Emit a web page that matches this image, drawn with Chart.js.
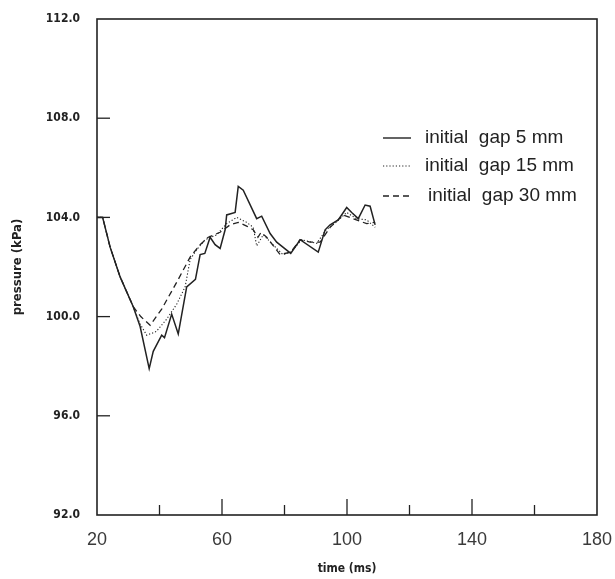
<!DOCTYPE html>
<html><head><meta charset="utf-8">
<script src="https://cdn.jsdelivr.net/npm/chart.js@4/dist/chart.umd.min.js"></script>
<style>html,body{margin:0;padding:0;background:#fff}#wrap{width:615px;height:579px;position:relative}</style>
</head><body><div id="wrap"><canvas id="c" width="615" height="579"></canvas></div>
<script>
// time (ms) and pressure (kPa) values
const gap5X  = [20,21.8,24.2,27.4,31.6,33.8,36.7,38,40.7,41.6,43.9,46,48.7,51.5,53,54.5,56.2,57.8,59.4,61,61.5,64.2,65.2,66.8,71.1,72.7,75.4,77.5,82,85,90.8,93,94.6,97.2,99.9,101.5,103.6,105.8,107.4,109];
const gap5Y  = [104,104,102.8,101.6,100.4,99.6,97.9,98.6,99.25,99.15,100.1,99.3,101.2,101.5,102.5,102.55,103.2,102.9,102.75,103.5,104.1,104.2,105.25,105.1,103.95,104.05,103.35,103.0,102.55,103.1,102.6,103.5,103.7,103.9,104.4,104.2,103.95,104.5,104.45,103.7];
const gap15X = [20,21.8,24.2,27.4,31.6,33.8,35.9,39,42.3,45.5,48.2,49.8,51.9,54.6,58.3,61.5,64.7,67.9,70,71.1,73.2,77.5,79.5,82,85.5,90.3,93.3,96.5,99.9,103,106.3,109];
const gap15Y = [104,104,102.8,101.6,100.4,99.7,99.25,99.4,99.9,100.5,101.2,102.3,102.7,103.1,103.3,103.75,104.0,103.8,103.6,102.85,103.3,102.75,102.5,102.6,103.1,102.95,103.5,103.8,104.2,103.95,103.9,103.6];
const gap30X = [20,21.8,24.2,27.4,31.6,34,37,40.7,46,49.8,53,55.6,59.4,62.6,65.2,67.9,70,71.5,72.5,74.3,78.6,82,85,88.2,91.4,94.6,98.8,103,106.3,109];
const gap30Y = [104,104,102.8,101.6,100.4,100,99.65,100.3,101.5,102.4,102.9,103.2,103.4,103.7,103.8,103.65,103.5,103.2,103.4,103.2,102.5,102.6,103.1,103.0,103.0,103.6,104.1,103.9,103.75,103.8];
const seriesNames = ['initial  gap 5 mm','initial  gap 15 mm','initial  gap 30 mm'];
const xTicks = [20,40,60,80,100,120,140,160,180];
const xLabelTicks = [20,60,100,140,180];
const yTicks = [92,96,100,104,108,112];

const pts = (xs, ys) => xs.map((x, i) => ({x, y: ys[i]}));
const ink = '#222';
const dashes = [[], [1.2, 2], [6, 4]];

const frameAndTicks = {
  id: 'frameAndTicks',
  afterDatasetsDraw(chart) {
    const {ctx, chartArea: a, scales: {x, y}} = chart;
    ctx.save();
    ctx.strokeStyle = ink; ctx.lineWidth = 1.6;
    ctx.strokeRect(a.left, a.top, a.right - a.left, a.bottom - a.top);
    ctx.lineWidth = 1.3;
    xTicks.forEach(v => {
      if (v === 20 || v === 180) return;
      const px = x.getPixelForValue(v);
      const len = xLabelTicks.includes(v) ? 16 : 10;
      ctx.beginPath(); ctx.moveTo(px, a.bottom); ctx.lineTo(px, a.bottom - len); ctx.stroke();
    });
    yTicks.forEach(v => {
      if (v === 92 || v === 112) return;
      const py = y.getPixelForValue(v);
      ctx.beginPath(); ctx.moveTo(a.left, py); ctx.lineTo(a.left + 13, py); ctx.stroke();
    });
    // legend
    const rows = [138, 166, 196];
    ctx.font = '19px "Liberation Sans", Arial, sans-serif';
    ctx.fillStyle = ink; ctx.textBaseline = 'middle';
    chart.data.datasets.forEach((ds, i) => {
      ctx.setLineDash(dashes[i]);
      ctx.lineWidth = i === 1 ? 1 : 1.4;
      ctx.beginPath(); ctx.moveTo(383, rows[i]); ctx.lineTo(411, rows[i]); ctx.stroke();
      ctx.setLineDash([]);
      ctx.fillText(ds.label, i === 2 ? 428 : 425, rows[i]);
    });
    ctx.restore();
  }
};

new Chart(document.getElementById('c'), {
  type: 'line',
  data: {
    datasets: [
      {label: seriesNames[0], data: pts(gap5X, gap5Y), borderDash: dashes[0], borderWidth: 1.5},
      {label: seriesNames[1], data: pts(gap15X, gap15Y), borderDash: dashes[1], borderWidth: 1.1},
      {label: seriesNames[2], data: pts(gap30X, gap30Y), borderDash: dashes[2], borderWidth: 1.3}
    ].map(d => Object.assign(d, {borderColor: ink, pointRadius: 0, tension: 0, fill: false}))
  },
  options: {
    responsive: false, animation: false,
    layout: {padding: {left: 10, right: 18, top: 19, bottom: 0}},
    plugins: {legend: {display: false}, tooltip: {enabled: false}},
    scales: {
      x: {
        type: 'linear', min: 20, max: 180,
        afterBuildTicks: s => { s.ticks = xTicks.map(v => ({value: v})); },
        grid: {display: false, drawTicks: false},
        border: {display: false},
        ticks: {
          autoSkip: false, maxRotation: 0, padding: 14, color: '#3a3a3a',
          font: {family: '"Liberation Sans", Arial, sans-serif', size: 18},
          callback: v => xLabelTicks.includes(v) ? String(v) : ''
        },
        title: {display: true, text: 'time (ms)', color: '#222', padding: {top: 2, bottom: 3},
          font: {family: '"DejaVu Sans Condensed", "DejaVu Sans", sans-serif', size: 12, weight: 'bold'}},
        afterFit: s => { s.height = 64; s.paddingLeft = 0; s.paddingRight = 0; }
      },
      y: {
        min: 92, max: 112,
        afterBuildTicks: s => { s.ticks = yTicks.map(v => ({value: v})); },
        grid: {display: false, drawTicks: false},
        border: {display: false},
        ticks: {
          padding: 17, color: '#222',
          font: {family: '"DejaVu Sans Condensed", "DejaVu Sans", sans-serif', size: 12, weight: 'bold'},
          callback: v => v.toFixed(1)
        },
        title: {display: true, text: 'pressure (kPa)', color: '#222', padding: {top: 0, bottom: 12},
          font: {family: '"DejaVu Sans Condensed", "DejaVu Sans", sans-serif', size: 13, weight: 'bold'}},
        afterFit: s => { s.width = 87; s.paddingTop = 0; s.paddingBottom = 0; }
      }
    }
  },
  plugins: [frameAndTicks]
});
</script></body></html>
